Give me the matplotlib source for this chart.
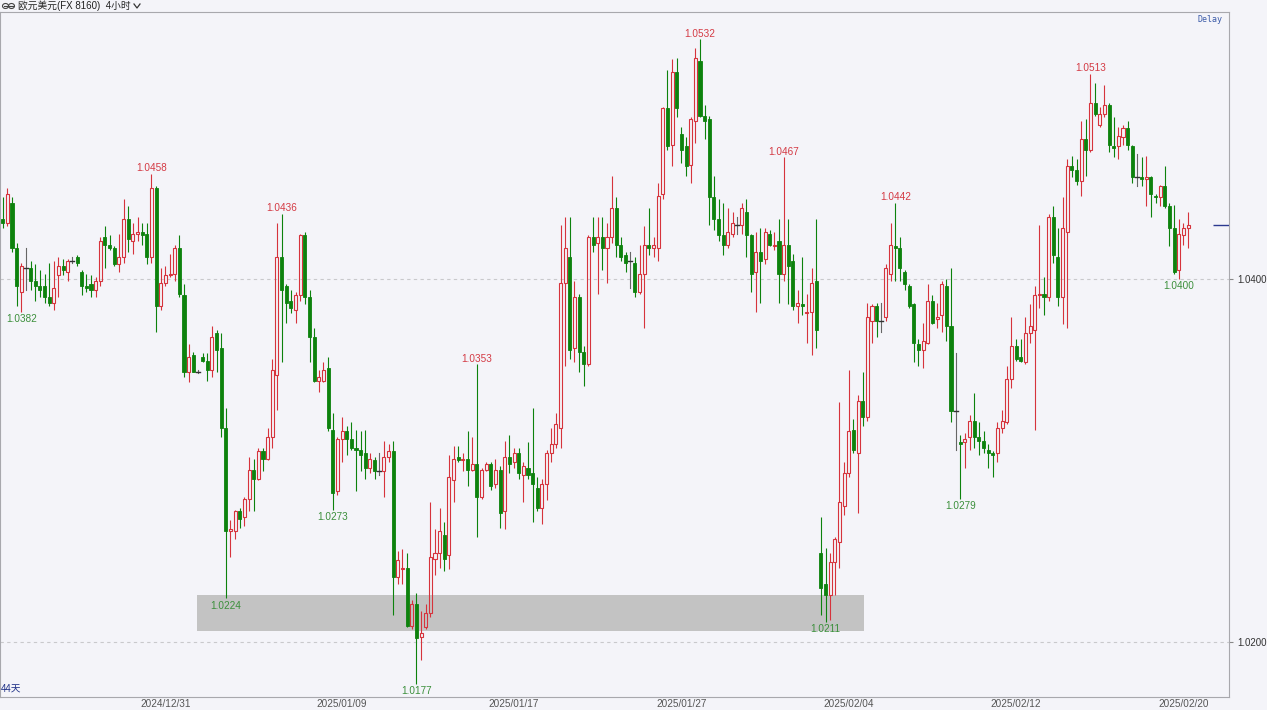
import matplotlib
matplotlib.use("Agg")
import matplotlib.pyplot as plt
from matplotlib.patches import Rectangle, Ellipse
from matplotlib.lines import Line2D

# ---- EUR/USD 4h candles ----
opens = [
    1.0433, 1.0431, 1.0442, 1.0417, 1.0393, 1.0406, 1.0406, 1.0399, 1.0396, 1.0396,
    1.0390, 1.0387, 1.0402, 1.0407, 1.0404, 1.0410, 1.0412, 1.0404, 1.0396, 1.0397,
    1.0394, 1.0399, 1.0423, 1.0419, 1.0417, 1.0408, 1.0412, 1.0433, 1.0421, 1.0425,
    1.0426, 1.0425, 1.0412, 1.0450, 1.0385, 1.0398, 1.0402, 1.0403, 1.0417, 1.0391,
    1.0349, 1.0358, 1.0349, 1.0357, 1.0355, 1.0350, 1.0370, 1.0362, 1.0318, 1.0261,
    1.0261, 1.0272, 1.0269, 1.0279, 1.0295, 1.0290, 1.0305, 1.0301, 1.0313, 1.0347,
    1.0412, 1.0396, 1.0388, 1.0383, 1.0391, 1.0424, 1.0390, 1.0368, 1.0344, 1.0344,
    1.0351, 1.0317, 1.0283, 1.0312, 1.0316, 1.0312, 1.0307, 1.0306, 1.0304, 1.0296,
    1.0300, 1.0294, 1.0294, 1.0302, 1.0305, 1.0236, 1.0240, 1.0241, 1.0209, 1.0221,
    1.0203, 1.0208, 1.0216, 1.0246, 1.0249, 1.0259, 1.0248, 1.0289, 1.0302, 1.0300,
    1.0301, 1.0295, 1.0298, 1.0280, 1.0295, 1.0298, 1.0287, 1.0295, 1.0272, 1.0302,
    1.0299, 1.0304, 1.0292, 1.0296, 1.0293, 1.0285, 1.0274, 1.0287, 1.0304, 1.0309,
    1.0318, 1.0398, 1.0412, 1.0362, 1.0390, 1.0360, 1.0353, 1.0423, 1.0420, 1.0423,
    1.0417, 1.0423, 1.0439, 1.0419, 1.0413, 1.0410, 1.0409, 1.0393, 1.0403, 1.0419,
    1.0417, 1.0417, 1.0447, 1.0494, 1.0474, 1.0514, 1.0480, 1.0473, 1.0463, 1.0487,
    1.0520, 1.0490, 1.0488, 1.0445, 1.0433, 1.0424, 1.0419, 1.0425, 1.0430, 1.0430,
    1.0437, 1.0424, 1.0404, 1.0415, 1.0411, 1.0425, 1.0418, 1.0421, 1.0403, 1.0419,
    1.0410, 1.0385, 1.0386, 1.0381, 1.0382, 1.0399, 1.0249, 1.0232, 1.0226, 1.0244,
    1.0255, 1.0275, 1.0293, 1.0317, 1.0304, 1.0333, 1.0324, 1.0377, 1.0385, 1.0377,
    1.0379, 1.0403, 1.0418, 1.0417, 1.0404, 1.0396, 1.0386, 1.0364, 1.0361, 1.0365,
    1.0388, 1.0378, 1.0380, 1.0396, 1.0374, 1.0327, 1.0310, 1.0310, 1.0313, 1.0322,
    1.0313, 1.0311, 1.0306, 1.0304, 1.0304, 1.0318, 1.0321, 1.0345, 1.0363, 1.0357,
    1.0354, 1.0370, 1.0372, 1.0391, 1.0392, 1.0390, 1.0434, 1.0412, 1.0390, 1.0426,
    1.0462, 1.0460, 1.0454, 1.0477, 1.0471, 1.0497, 1.0485, 1.0491, 1.0496, 1.0473,
    1.0473, 1.0478, 1.0483, 1.0473, 1.0456, 1.0456, 1.0455, 1.0456, 1.0446, 1.0445,
    1.0451, 1.0440, 1.0428, 1.0405, 1.0424, 1.0428,
]
highs = [
    1.0445, 1.0450, 1.0445, 1.0420, 1.0409, 1.0417, 1.0410, 1.0408, 1.0405, 1.0403,
    1.0409, 1.0410, 1.0412, 1.0411, 1.0411, 1.0412, 1.0413, 1.0405, 1.0403, 1.0402,
    1.0401, 1.0423, 1.0429, 1.0424, 1.0418, 1.0425, 1.0444, 1.0440, 1.0431, 1.0434,
    1.0431, 1.0431, 1.0458, 1.0451, 1.0406, 1.0407, 1.0414, 1.0419, 1.0424, 1.0397,
    1.0364, 1.0360, 1.0350, 1.0359, 1.0359, 1.0374, 1.0372, 1.0370, 1.0329, 1.0267,
    1.0273, 1.0274, 1.0280, 1.0302, 1.0301, 1.0307, 1.0307, 1.0318, 1.0356, 1.0431,
    1.0436, 1.0397, 1.0394, 1.0393, 1.0425, 1.0426, 1.0394, 1.0373, 1.0350, 1.0354,
    1.0357, 1.0326, 1.0313, 1.0324, 1.0319, 1.0321, 1.0317, 1.0316, 1.0317, 1.0304,
    1.0302, 1.0304, 1.0311, 1.0309, 1.0311, 1.0250, 1.0251, 1.0249, 1.0223, 1.0227,
    1.0217, 1.0221, 1.0277, 1.0262, 1.0274, 1.0266, 1.0303, 1.0308, 1.0308, 1.0304,
    1.0316, 1.0313, 1.0353, 1.0296, 1.0299, 1.0299, 1.0301, 1.0297, 1.0311, 1.0314,
    1.0307, 1.0307, 1.0299, 1.0310, 1.0329, 1.0291, 1.0290, 1.0306, 1.0318, 1.0326,
    1.0430, 1.0434, 1.0434, 1.0399, 1.0392, 1.0363, 1.0424, 1.0434, 1.0434, 1.0434,
    1.0431, 1.0457, 1.0445, 1.0423, 1.0415, 1.0415, 1.0412, 1.0419, 1.0429, 1.0439,
    1.0423, 1.0453, 1.0495, 1.0515, 1.0521, 1.0522, 1.0484, 1.0478, 1.0489, 1.0527,
    1.0532, 1.0496, 1.0490, 1.0457, 1.0444, 1.0442, 1.0439, 1.0437, 1.0434, 1.0442,
    1.0444, 1.0425, 1.0426, 1.0428, 1.0428, 1.0427, 1.0426, 1.0433, 1.0467, 1.0433,
    1.0414, 1.0394, 1.0412, 1.0392, 1.0406, 1.0433, 1.0269, 1.0252, 1.0249, 1.0258,
    1.0332, 1.0299, 1.0350, 1.0323, 1.0336, 1.0349, 1.0387, 1.0386, 1.0387, 1.0387,
    1.0408, 1.0431, 1.0442, 1.0423, 1.0405, 1.0397, 1.0387, 1.0367, 1.0376, 1.0397,
    1.0391, 1.0387, 1.0399, 1.0400, 1.0406, 1.0359, 1.0314, 1.0315, 1.0325, 1.0337,
    1.0321, 1.0316, 1.0309, 1.0305, 1.0321, 1.0328, 1.0352, 1.0379, 1.0367, 1.0367,
    1.0379, 1.0386, 1.0396, 1.0430, 1.0401, 1.0436, 1.0440, 1.0428, 1.0445, 1.0466,
    1.0468, 1.0466, 1.0487, 1.0488, 1.0513, 1.0508, 1.0495, 1.0507, 1.0497, 1.0489,
    1.0484, 1.0485, 1.0487, 1.0474, 1.0469, 1.0467, 1.0468, 1.0457, 1.0447, 1.0452,
    1.0462, 1.0442, 1.0441, 1.0433, 1.0431, 1.0437,
]
lows = [
    1.0428, 1.0429, 1.0415, 1.0385, 1.0382, 1.0394, 1.0394, 1.0388, 1.0390, 1.0387,
    1.0385, 1.0383, 1.0390, 1.0402, 1.0399, 1.0409, 1.0407, 1.0391, 1.0393, 1.0390,
    1.0390, 1.0396, 1.0406, 1.0416, 1.0407, 1.0404, 1.0409, 1.0415, 1.0414, 1.0421,
    1.0419, 1.0408, 1.0409, 1.0371, 1.0383, 1.0396, 1.0401, 1.0399, 1.0390, 1.0346,
    1.0343, 1.0349, 1.0348, 1.0354, 1.0344, 1.0346, 1.0349, 1.0313, 1.0224, 1.0247,
    1.0257, 1.0263, 1.0264, 1.0272, 1.0272, 1.0289, 1.0294, 1.0300, 1.0307, 1.0328,
    1.0354, 1.0376, 1.0381, 1.0376, 1.0388, 1.0386, 1.0354, 1.0343, 1.0338, 1.0343,
    1.0316, 1.0273, 1.0281, 1.0299, 1.0303, 1.0306, 1.0283, 1.0294, 1.0290, 1.0293,
    1.0290, 1.0292, 1.0280, 1.0299, 1.0215, 1.0232, 1.0232, 1.0208, 1.0207, 1.0177,
    1.0190, 1.0207, 1.0214, 1.0237, 1.0241, 1.0239, 1.0240, 1.0277, 1.0299, 1.0294,
    1.0286, 1.0294, 1.0258, 1.0279, 1.0294, 1.0284, 1.0285, 1.0263, 1.0262, 1.0293,
    1.0296, 1.0290, 1.0277, 1.0290, 1.0266, 1.0272, 1.0265, 1.0278, 1.0299, 1.0307,
    1.0307, 1.0352, 1.0356, 1.0354, 1.0349, 1.0341, 1.0352, 1.0415, 1.0392, 1.0405,
    1.0398, 1.0420, 1.0412, 1.0410, 1.0404, 1.0395, 1.0390, 1.0392, 1.0373, 1.0413,
    1.0412, 1.0410, 1.0444, 1.0471, 1.0462, 1.0489, 1.0464, 1.0457, 1.0453, 1.0475,
    1.0489, 1.0477, 1.0430, 1.0427, 1.0421, 1.0413, 1.0417, 1.0423, 1.0425, 1.0425,
    1.0412, 1.0393, 1.0382, 1.0387, 1.0408, 1.0418, 1.0416, 1.0387, 1.0399, 1.0386,
    1.0383, 1.0376, 1.0380, 1.0365, 1.0358, 1.0362, 1.0215, 1.0211, 1.0212, 1.0226,
    1.0241, 1.0270, 1.0291, 1.0304, 1.0271, 1.0319, 1.0322, 1.0365, 1.0368, 1.0371,
    1.0377, 1.0399, 1.0399, 1.0399, 1.0394, 1.0384, 1.0354, 1.0352, 1.0351, 1.0364,
    1.0375, 1.0373, 1.0371, 1.0366, 1.0321, 1.0306, 1.0279, 1.0296, 1.0306, 1.0307,
    1.0303, 1.0304, 1.0296, 1.0291, 1.0299, 1.0315, 1.0320, 1.0340, 1.0355, 1.0354,
    1.0353, 1.0365, 1.0317, 1.0384, 1.0380, 1.0388, 1.0409, 1.0385, 1.0375, 1.0373,
    1.0456, 1.0452, 1.0446, 1.0457, 1.0470, 1.0490, 1.0484, 1.0489, 1.0470, 1.0467,
    1.0466, 1.0474, 1.0471, 1.0453, 1.0451, 1.0451, 1.0440, 1.0434, 1.0442, 1.0440,
    1.0439, 1.0418, 1.0403, 1.0400, 1.0419, 1.0417,
]
closes = [
    1.0431, 1.0447, 1.0417, 1.0396, 1.0407, 1.0406, 1.0399, 1.0396, 1.0394, 1.0390,
    1.0387, 1.0395, 1.0407, 1.0405, 1.0410, 1.0410, 1.0409, 1.0396, 1.0395, 1.0394,
    1.0399, 1.0421, 1.0419, 1.0417, 1.0408, 1.0412, 1.0433, 1.0422, 1.0425, 1.0426,
    1.0424, 1.0412, 1.0450, 1.0385, 1.0398, 1.0402, 1.0403, 1.0417, 1.0392, 1.0349,
    1.0357, 1.0349, 1.0349, 1.0355, 1.0350, 1.0368, 1.0361, 1.0318, 1.0261, 1.0262,
    1.0272, 1.0268, 1.0279, 1.0295, 1.0290, 1.0305, 1.0301, 1.0313, 1.0350, 1.0412,
    1.0394, 1.0387, 1.0384, 1.0391, 1.0424, 1.0390, 1.0368, 1.0344, 1.0346, 1.0350,
    1.0318, 1.0282, 1.0312, 1.0316, 1.0312, 1.0307, 1.0306, 1.0303, 1.0296, 1.0301,
    1.0294, 1.0294, 1.0302, 1.0305, 1.0236, 1.0245, 1.0241, 1.0209, 1.0221, 1.0202,
    1.0205, 1.0216, 1.0247, 1.0249, 1.0261, 1.0246, 1.0291, 1.0301, 1.0300, 1.0301,
    1.0295, 1.0298, 1.0280, 1.0295, 1.0298, 1.0286, 1.0295, 1.0271, 1.0302, 1.0298,
    1.0304, 1.0293, 1.0297, 1.0292, 1.0287, 1.0274, 1.0287, 1.0304, 1.0309, 1.0320,
    1.0398, 1.0417, 1.0361, 1.0390, 1.0360, 1.0353, 1.0423, 1.0419, 1.0423, 1.0417,
    1.0423, 1.0439, 1.0419, 1.0412, 1.0409, 1.0410, 1.0393, 1.0403, 1.0419, 1.0417,
    1.0419, 1.0446, 1.0494, 1.0473, 1.0514, 1.0494, 1.0471, 1.0462, 1.0488, 1.0522,
    1.0490, 1.0487, 1.0445, 1.0433, 1.0424, 1.0419, 1.0426, 1.0431, 1.0430, 1.0439,
    1.0424, 1.0403, 1.0415, 1.0410, 1.0426, 1.0419, 1.0419, 1.0403, 1.0419, 1.0407,
    1.0385, 1.0387, 1.0385, 1.0382, 1.0398, 1.0372, 1.0230, 1.0226, 1.0244, 1.0257,
    1.0277, 1.0293, 1.0316, 1.0306, 1.0333, 1.0324, 1.0379, 1.0385, 1.0377, 1.0377,
    1.0406, 1.0419, 1.0417, 1.0406, 1.0397, 1.0385, 1.0365, 1.0361, 1.0366, 1.0388,
    1.0376, 1.0379, 1.0397, 1.0374, 1.0327, 1.0327, 1.0309, 1.0312, 1.0322, 1.0313,
    1.0311, 1.0307, 1.0304, 1.0303, 1.0318, 1.0322, 1.0345, 1.0363, 1.0356, 1.0355,
    1.0370, 1.0374, 1.0391, 1.0392, 1.0390, 1.0434, 1.0413, 1.0390, 1.0428, 1.0462,
    1.0460, 1.0454, 1.0477, 1.0471, 1.0497, 1.0491, 1.0491, 1.0496, 1.0474, 1.0472,
    1.0479, 1.0483, 1.0474, 1.0456, 1.0456, 1.0455, 1.0456, 1.0447, 1.0445, 1.0451,
    1.0440, 1.0428, 1.0404, 1.0425, 1.0428, 1.0430,
]

# candles whose extremes carry a price tag
peak_idx = [32, 60, 102, 150, 168, 192, 234]
trough_idx = [4, 48, 71, 89, 177, 206, 253]

# date labels on the time axis (candle index -> date)
date_pos = [35, 73, 110, 146, 182, 218, 254]
date_labels = ["2024/12/31", "2025/01/09", "2025/01/17", "2025/01/27",
               "2025/02/04", "2025/02/12", "2025/02/20"]

price_ticks = [1.0400, 1.0200]

# support band (candle span, price range)
zone_x = (41.8, 185.3)
zone_y = (1.0206, 1.0226)

title_text = "欧元美元(FX 8160)  4小时"

# ---- style ----
BG = "#f4f4f9"
RED = "#d6333c"
GREEN = "#0d820d"
RED_TXT = "#d43a44"
GREEN_TXT = "#3b8f3b"
DOJI = "#333333"
plt.rcParams["font.family"] = ["Liberation Sans", "Noto Sans CJK SC", "DejaVu Sans"]

W, H = 1267, 710
fig = plt.figure(figsize=(W / 100, H / 100), dpi=100, facecolor=BG)
ax = fig.add_axes([0.0, (H - 697) / H, 1229 / W, (697 - 12) / H])
ax.set_facecolor(BG)

ax.set_xlim(-0.58, 263.8)
ax.set_ylim(1.01697, 1.05471)

# support zone
ax.add_patch(Rectangle((zone_x[0], zone_y[0]), zone_x[1] - zone_x[0],
                       zone_y[1] - zone_y[0], facecolor="#c3c3c3",
                       edgecolor="none", zorder=1))

# reference price lines
for p in price_ticks:
    ax.axhline(p, color="#c9c9cc", lw=0.8, ls=(0, (3, 3)), zorder=0.5)

bw = 0.66
for i, (o, h, l, c) in enumerate(zip(opens, highs, lows, closes)):
    if c > o:
        ax.plot([i, i], [c, h], color=RED, lw=0.8, zorder=3, solid_capstyle="butt")
        ax.plot([i, i], [l, o], color=RED, lw=0.8, zorder=3, solid_capstyle="butt")
        ax.add_patch(Rectangle((i - bw / 2, o), bw, c - o, facecolor="none",
                               edgecolor=RED, lw=0.8, zorder=3))
    elif c < o:
        ax.plot([i, i], [l, h], color=GREEN, lw=0.8, zorder=3, solid_capstyle="butt")
        ax.add_patch(Rectangle((i - bw / 2, c), bw, o - c, facecolor=GREEN,
                               edgecolor=GREEN, lw=0.6, zorder=3))
    else:
        ax.plot([i, i], [l, h], color="#666666", lw=0.8, zorder=3)
        ax.plot([i - bw / 2 - 0.1, i + bw / 2 + 0.1], [o, o], color=DOJI, lw=1.0, zorder=3)

# extreme price tags
for i in peak_idx:
    ax.annotate(f"{highs[i]:.4f}", (i, highs[i]), xytext=(0, 0.5),
                textcoords="offset points", ha="center", va="bottom",
                color=RED_TXT, fontsize=7.2, zorder=5)
for i in trough_idx:
    ax.annotate(f"{lows[i]:.4f}", (i, lows[i]), xytext=(0, -1.5),
                textcoords="offset points", ha="center", va="top",
                color=GREEN_TXT, fontsize=7.2, zorder=5)

# last price marker
ax.hlines(closes[-1], 260.3, 263.8, color="#2b3990", lw=1.0, zorder=4)

# axes
ax.yaxis.tick_right()
ax.set_yticks(price_ticks)
ax.set_yticklabels([f"{p:.4f}" for p in price_ticks])
ax.tick_params(axis="y", length=3, width=0.8, color="#888888", pad=3,
               labelsize=7, labelcolor="#333333")
ax.set_xticks(date_pos)
ax.set_xticklabels(date_labels)
ax.tick_params(axis="x", length=0, pad=1.5, labelsize=7.2, labelcolor="#555555")
for s in ax.spines.values():
    s.set_color("#a8a8ad")
    s.set_linewidth(0.8)

# header and corner texts
fig.text(18 / W, 1 - 6 / H, title_text, fontsize=7.0, color="#222222",
         ha="left", va="center")
fig.add_artist(Line2D([134 / W, 137 / W, 140 / W],
                      [1 - 4 / H, 1 - 8 / H, 1 - 4 / H],
                      transform=fig.transFigure, color="#333333", lw=0.9))
for cx in (5.5, 11.5):
    fig.add_artist(Ellipse((cx / W, 1 - 6 / H), 6 / W, 5 / H,
                           transform=fig.transFigure, facecolor="none",
                           edgecolor="#444444", lw=0.8))
fig.add_artist(Line2D([4 / W, 13 / W], [1 - 6 / H, 1 - 6 / H],
                      transform=fig.transFigure, color="#444444", lw=0.8))
fig.text(1210 / W, 1 - 19 / H, "Delay", fontsize=6, color="#3a5aa8",
         family="DejaVu Sans Mono", ha="center", va="center")
fig.text(1 / W, 1 - 689 / H, "44天", fontsize=7, color="#1d2f86",
         ha="left", va="center")

fig.savefig("out.png", dpi=100, facecolor=BG)
